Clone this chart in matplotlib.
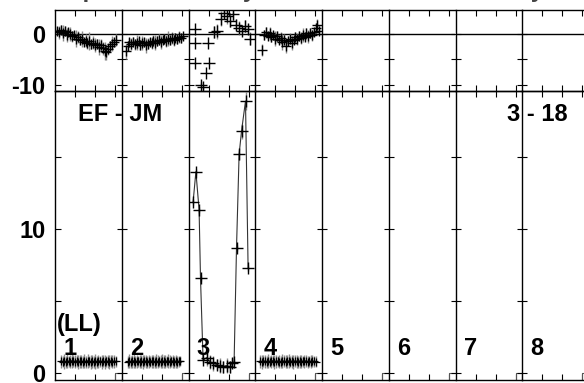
import numpy as np
import matplotlib
matplotlib.use("Agg")
import matplotlib.pyplot as plt

plt.rcParams["font.family"] = ["Liberation Sans", "DejaVu Sans"]
plt.rcParams["font.weight"] = "bold"

W, H = 584, 383

# ---- labels ----
title = "Group Processes by Lead Selection Summary"
panel_numbers = ["1", "2", "3", "4", "5", "6", "7", "8"]
lead_label = "(LL)"
left_label = "EF - JM"
right_label = "3 - 18"
top_ticks = [-10, -5, 0]
top_tick_labels = ["-10", "", "0"]
bottom_ticks = [0, 5, 10, 15]
bottom_tick_labels = ["0", "", "10", ""]

# ---- top row (differences), dense panels 1, 2, 4 ----
top_p1 = [0.6, 0.3, 0.8, 0.2, 0.5, -0.2, 0.4, 0.0, -0.5, -0.3, -0.9, -0.6, -1.2, -1.0, -1.5, -1.3,
          -1.8, -1.4, -2.0, -1.7, -2.2, -1.9, -2.5, -2.1, -2.8, -3.3, -3.6, -2.9, -2.4, -1.9, -1.6, -1.2]
top_p1_err = [0.8, 1.2, 0.9, 1.5, 1.0, 1.3, 0.7, 1.4, 1.1, 0.9, 1.6, 1.2, 1.0, 1.5, 0.8, 1.3,
              1.1, 1.7, 0.9, 1.2, 1.4, 1.0, 1.6, 1.1, 1.3, 1.8, 1.5, 1.2, 1.0, 1.4, 0.9, 1.1]
top_p2 = [-3.4, -2.4, -1.6, -1.9, -1.5, -2.0, -1.7, -1.4, -2.1, -1.8, -1.6, -2.2, -1.9, -1.5, -1.8, -1.3,
          -1.7, -1.4, -1.1, -1.6, -1.2, -1.0, -1.4, -0.9, -1.2, -0.8, -1.1, -0.7, -1.0, -0.6, -0.8, -0.5]
top_p2_err = [1.5, 1.0, 0.8, 1.2, 0.9, 1.1, 1.4, 0.8, 1.0, 1.3, 0.9, 1.5, 1.1, 0.8, 1.2, 1.0,
              1.4, 0.9, 1.1, 1.3, 0.8, 1.0, 1.2, 1.5, 0.9, 1.1, 1.3, 0.8, 1.0, 1.2, 0.9, 0.7]
top_p4 = [-3.1, -0.2, 0.3, -0.4, 0.1, -0.6, -0.3, -0.9, -0.5, -1.2, -0.8, -1.6, -1.1, -2.4, -1.4, -0.9,
          -1.7, -1.2, -0.6, -1.0, -0.4, -0.8, -0.2, -0.6, 0.1, -0.5, 0.2, -0.3, 0.4, 1.1, 1.8, 0.6]
top_p4_err = [1.2, 0.9, 1.1, 0.8, 1.3, 1.0, 0.9, 1.4, 1.1, 0.8, 1.2, 1.5, 1.0, 1.3, 0.9, 1.1,
              1.4, 0.8, 1.0, 1.2, 0.9, 1.1, 1.3, 0.8, 1.0, 1.2, 0.9, 1.1, 0.8, 1.0, 1.2, 0.9]

# top row panel 3 (sparse)
top_p3_x = [0.32, 0.30, 0.95, 0.30, 1.00, 0.85, 0.62, 0.72, 1.25, 1.40, 1.60,
            1.75, 1.90, 2.05, 2.20, 2.35, 2.50, 2.65, 2.80, 2.95, 3.05]
top_p3 = [1.0, -1.8, -1.8, -5.7, -5.7, -7.6, -10.0, -10.5, 0.4, 0.5, 3.0,
          4.2, 3.6, 2.5, 3.9, 1.8, 1.2, 0.6, 1.6, 1.0, -0.9]
top_p3_err = [0, 0, 0, 0, 0, 0, 0.5, 0.5, 1.2, 1.4, 1.5,
              1.0, 1.6, 1.2, 1.3, 1.1, 1.4, 0.9, 1.2, 1.0, 1.3]

# ---- bottom row (levels), dense panels 1, 2, 4 ----
bot_p1 = [0.86, 0.82, 0.84, 0.80, 0.85, 0.83, 0.81, 0.87, 0.84, 0.82, 0.86, 0.80, 0.83, 0.85, 0.81, 0.84,
          0.82, 0.86, 0.83, 0.80, 0.85, 0.82, 0.84, 0.81, 0.86, 0.83, 0.82, 0.85, 0.80, 0.84, 0.83, 0.81,
          0.86, 0.82, 0.84, 0.83]
bot_p1_err = [0.45, 0.40, 0.50, 0.42, 0.47, 0.38, 0.44, 0.50, 0.41, 0.46, 0.39, 0.48, 0.43, 0.45, 0.40, 0.49,
              0.42, 0.46, 0.38, 0.47, 0.44, 0.41, 0.50, 0.43, 0.45, 0.39, 0.48, 0.42, 0.46, 0.40, 0.44, 0.47,
              0.41, 0.45, 0.43, 0.38]
bot_p2 = [0.82, 0.85, 0.81, 0.84, 0.86, 0.80, 0.83, 0.85, 0.82, 0.84, 0.81, 0.86, 0.83, 0.80, 0.84, 0.82,
          0.85, 0.83, 0.81, 0.86, 0.82, 0.84, 0.80, 0.85, 0.83, 0.81, 0.84, 0.86, 0.82, 0.83, 0.85, 0.81,
          0.84, 0.82, 0.83, 0.84]
bot_p2_err = [0.42, 0.47, 0.40, 0.45, 0.49, 0.41, 0.44, 0.38, 0.46, 0.43, 0.48, 0.40, 0.45, 0.42, 0.47, 0.39,
              0.44, 0.46, 0.41, 0.48, 0.43, 0.40, 0.45, 0.47, 0.42, 0.44, 0.39, 0.46, 0.43, 0.41, 0.45, 0.40,
              0.44, 0.42, 0.38, 0.35]
bot_p4 = [0.84, 0.81, 0.86, 0.83, 0.80, 0.85, 0.82, 0.84, 0.87, 0.81, 0.83, 0.85, 0.82, 0.80, 0.86, 0.84,
          0.81, 0.83, 0.85, 0.82, 0.84, 0.80, 0.86, 0.83, 0.81, 0.85, 0.82, 0.84, 0.83, 0.86, 0.81, 0.84,
          0.82, 0.85, 0.83, 0.82]
bot_p4_err = [0.44, 0.48, 0.41, 0.46, 0.43, 0.49, 0.40, 0.45, 0.42, 0.47, 0.44, 0.39, 0.46, 0.42, 0.48, 0.41,
              0.45, 0.43, 0.47, 0.40, 0.44, 0.46, 0.42, 0.48, 0.41, 0.45, 0.43, 0.39, 0.46, 0.44, 0.42, 0.40,
              0.43, 0.41, 0.38, 0.36]

# bottom row panel 3 (response curve)
bot_p3_x = [0.23, 0.37, 0.53, 0.60, 0.73, 0.90, 1.07, 1.23, 1.40, 1.57,
            1.73, 1.90, 2.07, 2.17, 2.28, 2.40, 2.53, 2.65, 2.85, 2.98]
bot_p3 = [11.9, 14.0, 11.35, 6.6, 0.92, 1.1, 0.8, 0.7, 0.62, 0.55,
          0.45, 0.55, 0.45, 0.75, 0.8, 8.7, 15.2, 16.8, 18.9, 7.3]
bot_p3_err = [0.2, 0.2, 0.2, 0.2, 0.2, 0.6, 0.5, 0.5, 0.4, 0.5,
              0.4, 0.5, 0.4, 0.3, 0.2, 0.2, 0.4, 0.5, 0.6, 0.2]

# end-of-panel baseline marks (bottom row)
end_mark_x = [3.0, 3.0, 3.34, 3.34]
end_mark_y = [-0.6, 0.0, 0.0, -0.6]

# ---- layout (pixels) ----
n_cols = 8
col_left = 55
col_w = 66.75
x_max = col_w / 20.0
rows = [(10, 91, (-11.2, 4.7)), (91, 379.5, (-0.42, 19.6))]
gray = "#8a8a8a"

fig = plt.figure(figsize=(W / 100, H / 100), dpi=100)


def px_axes(x0, y0, x1, y1):
    return fig.add_axes([x0 / W, 1 - y1 / H, (x1 - x0) / W, (y1 - y0) / H])


axes = []
for r, (y0, y1, ylim) in enumerate(rows):
    row_axes = []
    for c in range(n_cols):
        x0 = col_left + c * col_w
        ax = px_axes(x0, y0, x0 + col_w, y1)
        ax.patch.set_visible(False)
        ax.set_xlim(0, x_max)
        ax.set_ylim(*ylim)
        ax.spines["right"].set_visible(False)
        for s in ("left", "top", "bottom"):
            ax.spines[s].set_linewidth(1.0)
            ax.spines[s].set_color("black")
        ax.set_xticks([1, 2, 3])
        ax.tick_params(axis="x", direction="in", top=True, bottom=True,
                       length=4, width=0.8, labelbottom=False)
        if r == 0:
            ax.set_yticks(top_ticks, top_tick_labels if c == 0 else [""] * 3)
            ax.axhline(0, color="black", lw=1.0, zorder=1)
        else:
            ax.set_yticks(bottom_ticks, bottom_tick_labels if c == 0 else [""] * 4)
        ax.tick_params(axis="y", direction="in" if c == 0 else "inout",
                       length=4.5 if c == 0 else 7, width=0.8, right=False,
                       labelsize=17, pad=7)
        row_axes.append(ax)
    axes.append(row_axes)


def dense_x(n, start, step):
    return start + step * np.arange(n)


# top row
top_sets = [
    (0, dense_x(len(top_p1), 0.10, 0.095), top_p1, top_p1_err),
    (1, dense_x(len(top_p2), 0.20, 0.092), top_p2, top_p2_err),
    (3, dense_x(len(top_p4), 0.35, 0.092), top_p4, top_p4_err),
]
for c, x, y, e in top_sets:
    ax = axes[0][c]
    ax.errorbar(x, y, yerr=e, fmt="none", ecolor=gray, elinewidth=1.0, zorder=2)
    ax.plot(x, y, ls="none", marker="+", ms=7.5, mew=1.0, color="black", zorder=3)

ax = axes[0][2]
ax.errorbar(top_p3_x, top_p3, yerr=top_p3_err, fmt="none", ecolor=gray, elinewidth=1.0, zorder=2)
ax.plot(top_p3_x, top_p3, ls="none", marker="+", ms=8.5, mew=1.0, color="black", zorder=3)

# bottom row
bot_sets = [
    (0, dense_x(len(bot_p1), 0.30, 0.078), bot_p1, bot_p1_err),
    (1, dense_x(len(bot_p2), 0.30, 0.075), bot_p2, bot_p2_err),
    (3, dense_x(len(bot_p4), 0.25, 0.079), bot_p4, bot_p4_err),
]
for c, x, y, e in bot_sets:
    ax = axes[1][c]
    ax.errorbar(x, y, yerr=e, fmt="none", ecolor=gray, elinewidth=1.0, zorder=2)
    ax.plot(x, y, "-", lw=1.0, marker="+", ms=6, mew=0.9, color="black", zorder=3)

ax = axes[1][2]
ax.errorbar(bot_p3_x, bot_p3, yerr=bot_p3_err, fmt="none", ecolor=gray, elinewidth=1.0, zorder=2)
ax.plot(bot_p3_x, bot_p3, "-", lw=0.8, color="#333333", marker="+", ms=8.5, mew=1.0,
        mec="black", zorder=3)

for c in range(n_cols):
    axes[1][c].plot(end_mark_x, end_mark_y, color="#555555", lw=0.8, clip_on=True)
    axes[1][c].text(0.42, 1.74, panel_numbers[c], fontsize=17, weight="bold",
                    ha="left", va="center", zorder=5)

axes[1][0].text(0.08, 3.4, lead_label, fontsize=17, weight="bold", ha="left", va="center")
axes[1][0].text(1.15, 18.0, left_label, fontsize=17, weight="bold", ha="left", va="center")
axes[1][7].text(2.25, 18.0, right_label, fontsize=17, weight="bold", ha="right", va="center")

# title sits above the top edge, only its lowest strokes show
fig.text(26 / W, 1 + 3 / H, title, fontsize=17, weight="bold", ha="left", va="baseline",
         color="#444444")

fig.savefig("out.png", dpi=100)
